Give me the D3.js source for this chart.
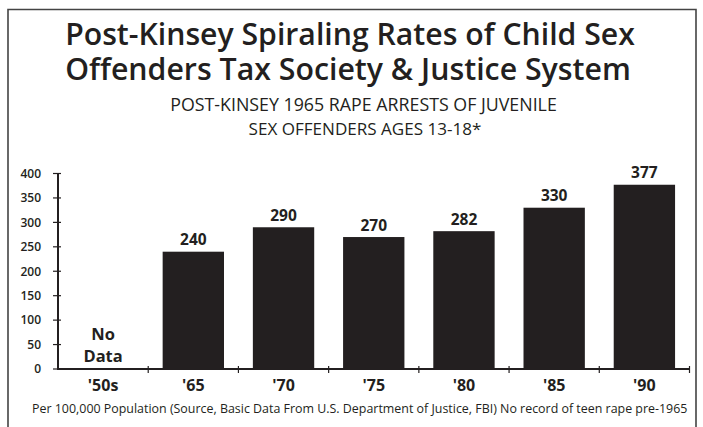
<!DOCTYPE html>
<html>
<head>
<meta charset="utf-8">
<script src="https://cdn.jsdelivr.net/npm/d3@7"></script>
<style>
  html, body { margin: 0; padding: 0; background: #fff; }
  svg { display: block; }
  text { font-family: "Open Sans", "Noto Sans", sans-serif; fill: #231f20; }
</style>
</head>
<body>
<svg id="chart" width="703" height="427"></svg>
<script>
// Juvenile rape arrests (ages 13-18) per 100,000 population
const categories = ["'50s", "'65", "'70", "'75", "'80", "'85", "'90"];
const values = [null, 240, 290, 270, 282, 330, 377];
const yTicks = [0, 50, 100, 150, 200, 250, 300, 350, 400];

const titleLines = ["Post-Kinsey Spiraling Rates of Child Sex", "Offenders Tax Society & Justice System"];
const subtitleLines = ["POST-KINSEY 1965 RAPE ARRESTS OF JUVENILE", "SEX OFFENDERS AGES 13-18*"];
const noDataLines = ["No", "Data"];
const footnote = "Per 100,000 Population (Source, Basic Data From U.S. Department of Justice, FBI) No record of teen rape pre-1965";

const ink = "#231f20";
const svg = d3.select("#chart");

// Frame (open at the bottom)
svg.append("path")
  .attr("d", "M8,427 V9.5 H696 V427")
  .attr("fill", "none")
  .attr("stroke", "#444")
  .attr("stroke-width", 1.6);

// Scale a text's font size so it spans a given width
function fit(sel, width) {
  const w = sel.node().getComputedTextLength();
  const fs = parseFloat(sel.attr("font-size"));
  sel.attr("font-size", fs * width / w);
  return sel;
}

// Title
const titleY = [44.5, 80];
const titleX = [350, 348];
const titleW = [570, 566];
titleLines.forEach((t, i) => {
  fit(svg.append("text")
    .attr("x", titleX[i]).attr("y", titleY[i])
    .attr("text-anchor", "middle")
    .attr("font-size", 30).attr("font-weight", 600)
    .text(t), titleW[i]);
});

// Subtitle
const subY = [111, 134.5];
const subX = [363.5, 365];
const subW = [387, 233];
subtitleLines.forEach((t, i) => {
  fit(svg.append("text")
    .attr("x", subX[i]).attr("y", subY[i])
    .attr("text-anchor", "middle")
    .attr("font-size", 16).attr("font-weight", 400)
    .text(t), subW[i]);
});

// Scales
const x = d3.scaleBand().domain(categories).range([58, 689.5]).paddingInner(0.32).paddingOuter(0.16);
const y = d3.scaleLinear().domain([0, 400]).range([369, 173.5]);
const step = x.step();
const x0 = 58;

// Bars
const data = categories.map((c, i) => ({ c, v: values[i] }));
svg.append("g").selectAll("rect")
  .data(data.filter(d => d.v != null))
  .join("rect")
  .attr("x", d => x(d.c))
  .attr("y", d => y(d.v))
  .attr("width", x.bandwidth())
  .attr("height", d => y(0) - y(d.v))
  .attr("fill", ink);

// Value labels
svg.append("g").selectAll("text")
  .data(data.filter(d => d.v != null))
  .join("text")
  .attr("x", d => x(d.c) + x.bandwidth() / 2)
  .attr("y", d => y(d.v) - 6.5)
  .attr("text-anchor", "middle")
  .attr("font-size", 15.5).attr("font-weight", 700)
  .text(d => d.v);

// "No Data" note for the missing decade
const nd = data.find(d => d.v == null);
noDataLines.forEach((t, i) => {
  svg.append("text")
    .attr("x", x(nd.c) + x.bandwidth() / 2)
    .attr("y", 340 + i * 21.5)
    .attr("text-anchor", "middle")
    .attr("font-size", 16.5).attr("font-weight", 700)
    .text(t);
});

// Y axis
const yAxis = svg.append("g");
yAxis.append("line")
  .attr("x1", x0).attr("x2", x0)
  .attr("y1", y(400) - 0.5).attr("y2", y(0) + 1)
  .attr("stroke", ink).attr("stroke-width", 2);
yAxis.selectAll(".tick")
  .data(yTicks)
  .join("line")
  .attr("x1", x0 - 5).attr("x2", x0 + 3)
  .attr("y1", d => y(d)).attr("y2", d => y(d))
  .attr("stroke", ink).attr("stroke-width", 1.2);
yAxis.selectAll("text")
  .data(yTicks)
  .join("text")
  .attr("x", 41).attr("y", d => y(d))
  .attr("dy", "0.36em")
  .attr("text-anchor", "end")
  .attr("font-size", 12).attr("font-weight", 600)
  .text(d => d);

// X axis
const xAxis = svg.append("g");
xAxis.append("line")
  .attr("x1", x0).attr("x2", x.range()[1])
  .attr("y1", y(0)).attr("y2", y(0))
  .attr("stroke", ink).attr("stroke-width", 2);
const bounds = d3.range(categories.length + 1).map(i => x0 + i * step);
xAxis.selectAll(".tick")
  .data(bounds.slice(1))
  .join("line")
  .attr("x1", d => d).attr("x2", d => d)
  .attr("y1", y(0) - 3).attr("y2", y(0) + 4)
  .attr("stroke", ink).attr("stroke-width", 1.2);
xAxis.selectAll("text")
  .data(categories)
  .join("text")
  .attr("x", d => x(d) + x.bandwidth() / 2)
  .attr("y", 391)
  .attr("text-anchor", "middle")
  .attr("font-size", 16).attr("font-weight", 700)
  .text(d => d);

// Footnote
fit(svg.append("text")
  .attr("x", 32).attr("y", 413)
  .attr("font-size", 12).attr("font-weight", 400)
  .text(footnote), 656);
</script>
</body>
</html>
